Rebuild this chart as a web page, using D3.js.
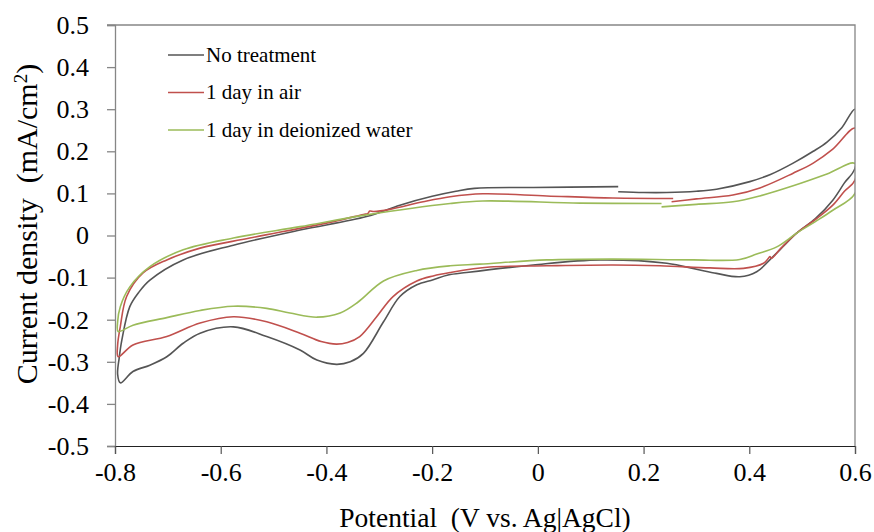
<!DOCTYPE html>
<html>
<head>
<meta charset="utf-8">
<script src="https://cdn.jsdelivr.net/npm/d3@7"></script>
<style>
  body { margin: 0; background: #fff; }
  svg text { font-family: "Liberation Serif", "Times New Roman", serif; fill: #000; }
</style>
</head>
<body>
<div id="chart"></div>
<script>
var width = 874,
    height = 532;
var margin = {top: 25, right: 19, bottom: 86, left: 115};
var serif = "'Liberation Serif', 'Times New Roman', serif";

// cyclic voltammograms, [potential V, current mA/cm2], in scan order
var seriesNames = ["No treatment", "1 day in air", "1 day in deionized water"];
var seriesColors = ["#555555", "#C0504D", "#9BBB59"];

var noTreatment = [
  [0.152,0.104],[0.2,0.102],[0.244,0.102],[0.3,0.105],[0.338,0.11],[0.401,0.128],[0.44,0.145],
  [0.483,0.172],[0.521,0.2],[0.547,0.222],[0.575,0.256],[0.6,0.30],
  [0.6,0.16],[0.58,0.125],[0.558,0.084],[0.525,0.04],[0.489,0.005],[0.465,-0.025],[0.445,-0.05],
  [0.414,-0.086],[0.382,-0.098],[0.338,-0.09],[0.3,-0.08],[0.244,-0.066],[0.118,-0.058],
  [-0.009,-0.07],[-0.135,-0.088],[-0.17,-0.094],[-0.198,-0.105],[-0.229,-0.117],[-0.261,-0.145],
  [-0.292,-0.205],[-0.33,-0.28],[-0.355,-0.3],[-0.381,-0.306],[-0.418,-0.296],[-0.45,-0.272],
  [-0.513,-0.24],[-0.576,-0.217],[-0.639,-0.232],[-0.671,-0.256],[-0.702,-0.288],[-0.734,-0.308],
  [-0.766,-0.323],[-0.79,-0.35],[-0.795,-0.33],[-0.792,-0.29],[-0.787,-0.248],[-0.772,-0.169],
  [-0.755,-0.135],[-0.734,-0.106],[-0.671,-0.058],[-0.576,-0.023],[-0.45,0.013],[-0.324,0.045],
  [-0.261,0.072],[-0.2,0.093],[-0.155,0.105],[-0.12,0.112],[-0.009,0.114],[0.152,0.116]
];

var dayInAir = [
  [0.253,0.080],[0.3,0.087],[0.369,0.096],[0.42,0.113],[0.483,0.148],[0.521,0.172],[0.558,0.205],
  [0.6,0.255],
  [0.6,0.132],[0.58,0.105],[0.558,0.072],[0.525,0.038],[0.489,0.005],[0.46,-0.03],[0.442,-0.054],
  [0.439,-0.05],[0.435,-0.056],[0.427,-0.066],[0.389,-0.078],[0.326,-0.077],[0.231,-0.072],
  [0.142,-0.070],[0.017,-0.072],[-0.091,-0.075],[-0.166,-0.088],[-0.198,-0.096],[-0.229,-0.108],
  [-0.274,-0.145],[-0.305,-0.193],[-0.337,-0.240],[-0.36,-0.254],[-0.381,-0.258],[-0.41,-0.252],
  [-0.45,-0.232],[-0.513,-0.205],[-0.576,-0.193],[-0.639,-0.208],[-0.702,-0.24],[-0.766,-0.26],
  [-0.794,-0.288],[-0.795,-0.26],[-0.79,-0.217],[-0.778,-0.145],[-0.747,-0.089],[-0.702,-0.058],
  [-0.639,-0.03],[-0.545,-0.006],[-0.387,0.033],[-0.33,0.05],[-0.322,0.052],[-0.318,0.058],
  [-0.31,0.057],[-0.28,0.062],[-0.217,0.08],[-0.166,0.092],[-0.104,0.099],[0.017,0.094],
  [0.142,0.089],[0.256,0.088]
];

var dayInWater = [
  [0.234,0.068],[0.3,0.074],[0.369,0.080],[0.42,0.094],[0.483,0.118],[0.547,0.146],[0.6,0.171],
  [0.6,0.1],[0.558,0.06],[0.525,0.033],[0.489,0.005],[0.452,-0.027],[0.414,-0.044],[0.382,-0.057],
  [0.294,-0.058],[0.142,-0.056],[0.017,-0.058],[-0.11,-0.068],[-0.166,-0.072],[-0.229,-0.083],
  [-0.292,-0.108],[-0.34,-0.158],[-0.374,-0.184],[-0.418,-0.194],[-0.469,-0.184],[-0.513,-0.173],
  [-0.576,-0.168],[-0.639,-0.178],[-0.702,-0.195],[-0.766,-0.213],[-0.794,-0.228],[-0.795,-0.205],
  [-0.79,-0.169],[-0.772,-0.122],[-0.734,-0.074],[-0.671,-0.034],[-0.576,-0.006],[-0.45,0.021],
  [-0.324,0.049],[-0.166,0.076],[-0.104,0.082],[0.08,0.077],[0.234,0.076]
];

var xTicks = [-0.8, -0.6, -0.4, -0.2, 0, 0.2, 0.4, 0.6];
var yTicks = [-0.5, -0.4, -0.3, -0.2, -0.1, 0, 0.1, 0.2, 0.3, 0.4, 0.5];

var allSeries = [noTreatment, dayInAir, dayInWater];

var svg = d3.select("#chart")
  .append("svg")
    .attr("width", width)
    .attr("height", height)
    .attr("font-family", serif);

var x = d3.scaleLinear().domain([-0.8, 0.6]).range([margin.left, width - margin.right]);
var y = d3.scaleLinear().domain([-0.5, 0.5]).range([height - margin.bottom, margin.top]);

function fmt(d) {
  if (d === 0) return "0";
  return (d < 0 ? "-" : "") + Math.abs(d).toFixed(1);
}

// keep the smoothed curves inside the plot box
svg.append("clipPath")
  .attr("id", "plotClip")
  .append("rect")
    .attr("x", x(-0.8))
    .attr("y", y(0.5))
    .attr("width", x(0.6) - x(-0.8))
    .attr("height", y(-0.5) - y(0.5));

var yAxis = svg.append("g")
  .attr("transform", "translate(" + margin.left + ",0)")
  .call(d3.axisLeft(y).tickValues(yTicks).tickFormat(fmt).tickSize(8).tickPadding(18));
yAxis.attr("font-family", serif).attr("font-size", 26);
yAxis.select(".domain").attr("stroke", "#868686").attr("stroke-width", 1.3);
yAxis.selectAll(".tick line").attr("stroke", "#868686").attr("stroke-width", 1.3);

var xAxis = svg.append("g")
  .attr("transform", "translate(0," + (height - margin.bottom) + ")")
  .call(d3.axisBottom(x).tickValues(xTicks).tickFormat(fmt).tickSize(8).tickPadding(9));
xAxis.attr("font-family", serif).attr("font-size", 26);
xAxis.select(".domain").attr("stroke", "#222").attr("stroke-width", 1.2);
xAxis.selectAll(".tick line").attr("stroke", "#555").attr("stroke-width", 1.2);

var line = d3.line()
  .x(function(d) { return x(d[0]); })
  .y(function(d) { return y(d[1]); })
  .curve(d3.curveCatmullRom.alpha(0.5));

svg.append("g")
  .attr("clip-path", "url(#plotClip)")
  .selectAll("path.cv")
  .data(allSeries)
  .enter()
  .append("path")
    .attr("class", "cv")
    .attr("d", line)
    .attr("fill", "none")
    .attr("stroke", function(d, i) { return seriesColors[i]; })
    .attr("stroke-width", 1.6)
    .attr("stroke-linejoin", "round");

// frame: top and right border
svg.append("path")
  .attr("d", "M" + (x(-0.8) - 8) + "," + y(0.5) + "H" + x(0.6) + "V" + y(-0.5))
  .attr("fill", "none")
  .attr("stroke", "#868686")
  .attr("stroke-width", 1.3);

// legend
var legend = svg.selectAll(".legend")
  .data(seriesNames)
  .enter()
  .append("g")
    .attr("class", "legend")
    .attr("transform", function(d, i) { return "translate(168," + (55 + i * 37.5) + ")"; });

legend.append("line")
  .attr("x1", 0).attr("x2", 36)
  .attr("stroke", function(d, i) { return seriesColors[i]; })
  .attr("stroke-width", 1.6);

legend.append("text")
  .attr("x", 38)
  .attr("dy", "0.33em")
  .attr("font-size", 21)
  .text(function(d) { return d; });

// axis titles
svg.append("text")
  .attr("transform", "translate(37," + 224 + ") rotate(-90)")
  .attr("text-anchor", "middle")
  .attr("font-size", 30)
  .html("Current density&#160; (mA/cm<tspan baseline-shift=\"super\" font-size=\"19\">2</tspan>)");

svg.append("text")
  .attr("x", 485)
  .attr("y", 527)
  .attr("text-anchor", "middle")
  .attr("font-size", 27.5)
  .text("Potential\u00a0 (V vs. Ag|AgCl)");
</script>
</body>
</html>
